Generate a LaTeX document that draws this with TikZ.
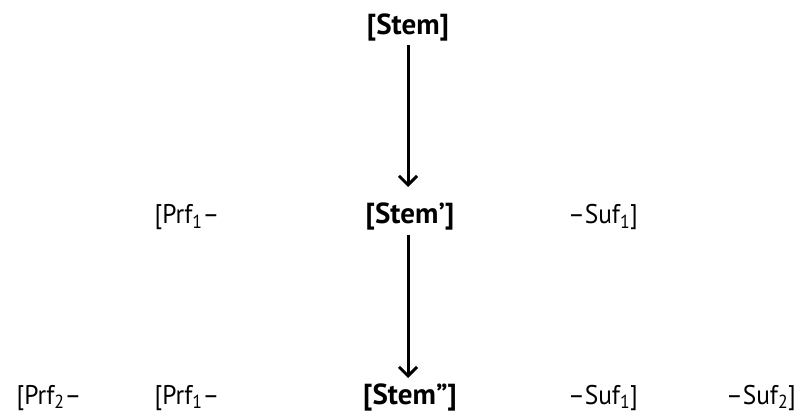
\documentclass[tikz,border=0pt]{standalone}
\usepackage{fontspec}
\setmainfont{PT Sans}[FakeStretch=0.94,BoldFeatures={FakeStretch=1.0}]
\usetikzlibrary{arrows.meta}
\begin{document}
\begin{tikzpicture}[x=1pt,y=-1pt,
  lab/.style={anchor=base,inner sep=0pt,font=\fontsize{27}{32}\selectfont},
  stemlab/.style={lab,font=\fontsize{29}{34}\selectfont\bfseries},
  arr/.style={line width=3pt,-{Straight Barb[length=9pt,width=18pt,line width=3pt]}}]
\useasboundingbox (0,0) rectangle (809,414);
\node[stemlab] (s0) at (408,35) {[Stem]};
\node[lab] (p1a) at (187,224) {[Prf\textsubscript{1}–};
\node[stemlab] (s1) at (410,224) {[Stem’]};
\node[lab] (f1a) at (603,224) {–Suf\textsubscript{1}]};
\node[lab] (p2) at (49,404) {[Prf\textsubscript{2}–};
\node[lab] (p1b) at (187,404) {[Prf\textsubscript{1}–};
\node[stemlab] (s2) at (410,404) {[Stem”]};
\node[lab] (f1b) at (603,404) {–Suf\textsubscript{1}]};
\node[lab] (f2) at (761,404) {–Suf\textsubscript{2}]};
\coordinate (a0) at (408,45);
\coordinate (a1) at (408,187);
\coordinate (b0) at (408,235);
\coordinate (b1) at (408,378);
\draw[arr] (a0) -- (a1);
\draw[arr] (b0) -- (b1);
\end{tikzpicture}
\end{document}
